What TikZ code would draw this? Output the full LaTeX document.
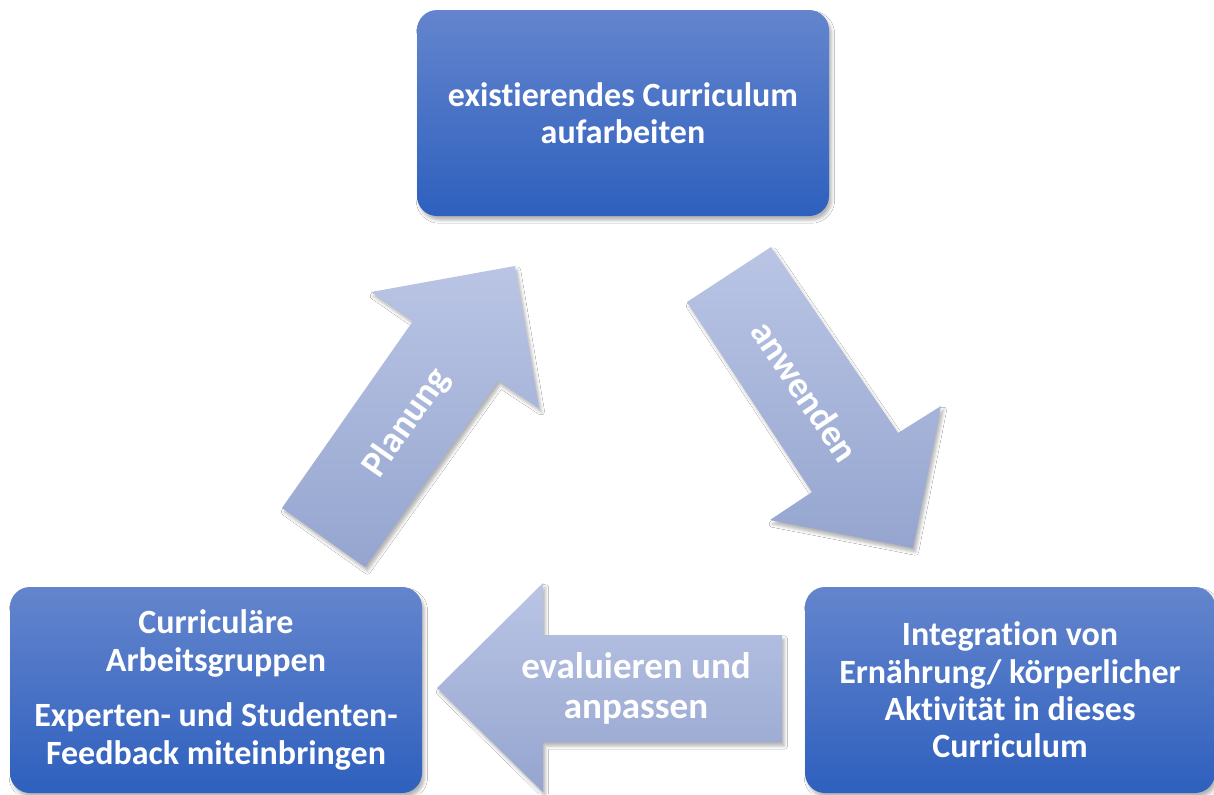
\documentclass[tikz,border=0pt]{standalone}
\usepackage{fontspec}
\setmainfont{Carlito}[Ligatures=NoCommon]
\usetikzlibrary{shadows.blur}

\definecolor{boxtop}{RGB}{100,133,205}
\definecolor{boxbot}{RGB}{46,96,190}
\definecolor{arrtop}{RGB}{186,197,229}
\definecolor{arrbot}{RGB}{149,165,207}

\tikzset{
  softshadow/.style={blur shadow={shadow xshift=1.2pt,shadow yshift=-2pt,
      shadow blur radius=1.6pt,shadow opacity=30}},
  stepbox/.style={rounded corners=10pt,top color=boxtop,bottom color=boxbot,
      minimum height=103pt,text=white,align=center,softshadow,
      font=\bfseries\fontsize{17}{18.7}\selectfont},
  bigarrow/.style={top color=arrtop,bottom color=arrbot,softshadow},
  arrowtext/.style={text=white,align=center,
      font=\bfseries\fontsize{18.5}{20}\selectfont}
}

\begin{document}
\begin{tikzpicture}[x=0.5pt,y=-0.5pt]

      \fill[white] (0,0) rectangle (1214,794);
      \useasboundingbox (0,0) rectangle (1214,794);

      \path[bigarrow] (282,508) -- (413,321) -- (371,292) -- (515,266)
            -- (539,408) -- (498,381) -- (365,567) -- cycle;
      \path[bigarrow] (687,302) -- (771,247) -- (898,433) -- (941,406)
            -- (913,548) -- (770,520) -- (812,492) -- cycle;
      \path[bigarrow] (782,635) -- (543,635) -- (543,583) -- (437,688)
            -- (543,792) -- (543,742) -- (782,742) -- cycle;

      \begin{scope}[every node/.style={arrowtext}]
        \node[rotate=55]  (plan) at (407,423) {Planung};
        \node[rotate=-56] (anw)  at (805,391) {anwenden};
        \node             (eval) at (636,688) {evaluieren und\\anpassen};
      \end{scope}

      \begin{scope}[every node/.style={stepbox}]
        \node[minimum width=206pt] (cur)   at (623,113)
          {existierendes Curriculum\\aufarbeiten};
        \node[minimum width=206pt] (grp)   at (216,690)
          {Curriculäre\\Arbeitsgruppen\\[9pt]Experten- und Studenten-\\Feedback miteinbringen};
        \node[minimum width=205pt] (integ) at (1010,690)
          {Integration von\\Ernährung/ körperlicher\\Aktivität in dieses\\Curriculum};
      \end{scope}

    \end{tikzpicture}
\end{document}
